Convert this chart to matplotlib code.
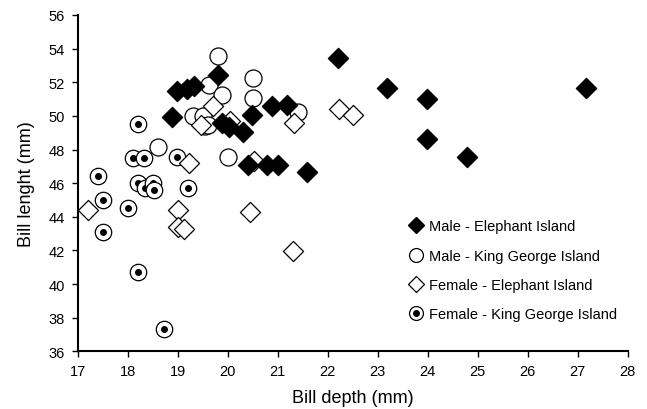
import numpy as np
import matplotlib.pyplot as plt
from matplotlib.lines import Line2D

plt.rcParams['font.family'] = ['Liberation Sans', 'DejaVu Sans']

# Male - Elephant Island
me_depth = [18.89, 18.99, 19.19, 19.33, 19.81, 19.89, 20.02, 20.30, 20.49, 20.89, 21.18,
            20.40, 20.78, 21.0, 21.59, 22.2, 23.19, 23.99, 23.99, 24.79, 27.17]
me_length = [49.95, 51.5, 51.6, 51.8, 52.45, 49.6, 49.33, 49.05, 50.08, 50.56, 50.62,
             47.1, 47.05, 47.05, 46.68, 53.44, 51.67, 51.02, 48.64, 47.58, 51.65]

# Male - King George Island
mk_depth = [19.81, 19.62, 19.89, 20.5, 20.5, 21.41, 19.30, 19.51, 19.55, 19.61, 18.61, 20.0]
mk_length = [53.54, 51.85, 51.27, 52.25, 51.06, 50.23, 50.02, 50.02, 49.4, 49.43, 48.14, 47.55]

# Female - Elephant Island
fe_depth = [19.70, 20.05, 19.46, 19.22, 20.53, 21.32, 22.22, 22.51, 17.2, 19.0, 19.0,
            19.13, 20.44, 21.30]
fe_length = [50.58, 49.72, 49.43, 47.21, 47.32, 49.6, 50.42, 50.07, 44.41, 44.41, 43.38,
             43.28, 44.27, 41.99]

# Female - King George Island
fk_depth = [17.40, 17.51, 17.51, 18.01, 18.11, 18.32, 18.2, 18.34, 18.51, 18.52, 18.99,
            19.2, 18.2, 18.72, 18.2]
fk_length = [46.45, 45.02, 43.12, 44.53, 47.51, 47.51, 46.02, 45.7, 46.02, 45.62, 47.55,
             45.72, 40.74, 37.33, 49.53]

fig = plt.figure(figsize=(6.47, 4.10), dpi=100)
ax = fig.add_axes([0.1198, 0.1407, 0.8504, 0.8203])

# each bullseye drawn as a ring + dot so overlapping ones stack properly
for i, (x, y) in enumerate(zip(fk_depth, fk_length)):
    z = 2 + i * 0.01
    ax.scatter([x], [y], s=140, facecolor='white', edgecolor='black', linewidth=0.9, zorder=z)
    ax.scatter([x], [y], s=16, color='black', zorder=z + 0.005)
ax.scatter(mk_depth, mk_length, s=150, facecolor='white', edgecolor='black', linewidth=0.9, zorder=3)
ax.scatter(fe_depth, fe_length, marker='D', s=105, facecolor='white', edgecolor='black', linewidth=0.9, zorder=3)
ax.scatter(me_depth, me_length, marker='D', s=105, color='black', zorder=4)

ax.set_xlim(17, 28)
ax.set_ylim(36, 56)
ax.set_xticks(np.arange(17, 29, 1))
ax.set_yticks(np.arange(36, 57, 2))
for s in ['top', 'right']:
    ax.spines[s].set_visible(False)
for s in ['left', 'bottom']:
    ax.spines[s].set_linewidth(1.5)
ax.tick_params(direction='out', length=4, width=1, labelsize=10.5, pad=5)
ax.set_xlabel('Bill depth (mm)', fontsize=13, labelpad=8)
ax.set_ylabel('Bill lenght (mm)', fontsize=13, labelpad=10)

h1 = Line2D([], [], marker='D', ls='', color='black', markersize=8)
h2 = Line2D([], [], marker='o', ls='', mfc='white', mec='black', markersize=10, mew=0.9)
h3 = Line2D([], [], marker='D', ls='', mfc='white', mec='black', markersize=8, mew=0.9)
h4a = Line2D([], [], marker='o', ls='', mfc='white', mec='black', markersize=10, mew=0.9)
h4b = Line2D([], [], marker='o', ls='', color='black', markersize=4)
ax.legend([h1, h2, h3, (h4a, h4b)],
          ['Male - Elephant Island', 'Male - King George Island',
           'Female - Elephant Island', 'Female - King George Island'],
          loc='upper left', bbox_to_anchor=(0.575, 0.431), frameon=False,
          fontsize=10.5, labelspacing=1.05, handletextpad=0.3, handlelength=1.2)

fig.savefig('out.png', dpi=100)
